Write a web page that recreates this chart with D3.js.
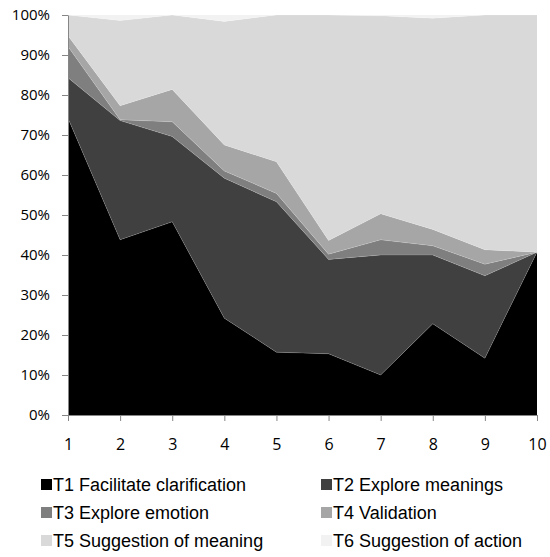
<!DOCTYPE html>
<html>
<head>
<meta charset="utf-8">
<script src="https://cdn.jsdelivr.net/npm/d3@7"></script>
<style>
  html, body { margin: 0; padding: 0; background: #ffffff; }
  svg { display: block; }
</style>
</head>
<body>
<svg id="chart" width="550" height="557"></svg>
<script>
// ---- data ----
const sessions = [1, 2, 3, 4, 5, 6, 7, 8, 9, 10];
const seriesNames = [
  "T1 Facilitate clarification",
  "T2 Explore meanings",
  "T3 Explore emotion",
  "T4 Validation",
  "T5 Suggestion of meaning",
  "T6 Suggestion of action"
];
const t1 = [74.2, 43.8, 48.3, 24.2, 15.7, 15.3, 10.0, 22.8, 14.2, 40.7];
const t2 = [10.1, 29.8, 21.3, 35.0, 37.6, 23.6, 30.0, 17.2, 20.6, 0.0];
const t3 = [7.8, 0.2, 3.7, 1.8, 2.1, 1.3, 3.8, 2.3, 2.9, 0.0];
const t4 = [2.7, 3.5, 8.1, 6.5, 7.9, 3.4, 6.5, 4.1, 3.6, 0.0];
const t5 = [5.2, 21.3, 18.6, 30.9, 36.7, 56.4, 49.5, 52.8, 58.7, 59.3];
const t6 = [0.0, 1.4, 0.0, 1.6, 0.0, 0.0, 0.2, 0.8, 0.0, 0.0];
const yTicks = [0, 10, 20, 30, 40, 50, 60, 70, 80, 90, 100];
const colors = ["#000000", "#404040", "#7f7f7f", "#a6a6a6", "#d9d9d9", "#f2f2f2"];

// ---- build table ----
const seriesValues = [t1, t2, t3, t4, t5, t6];
const keys = seriesNames;
const table = sessions.map((s, i) => {
  const row = { session: s };
  keys.forEach((k, j) => row[k] = seriesValues[j][i]);
  return row;
});

const svg = d3.select("#chart");
const x = d3.scaleLinear().domain([1, 10]).range([68, 537]);
const y = d3.scaleLinear().domain([0, 100]).range([415, 15]);

const stack = d3.stack().keys(keys);
const layers = stack(table);

const area = d3.area()
  .x(d => x(d.data.session))
  .y0(d => y(d[0]))
  .y1(d => y(d[1]));

svg.append("g").selectAll("path")
  .data(layers)
  .join("path")
  .attr("d", area)
  .attr("fill", (d, i) => colors[i]);

// thin separators between layers
const topLine = d3.line()
  .x(d => x(d.data.session))
  .y(d => y(d[1]));
svg.append("g").selectAll("path")
  .data(layers.slice(0, 5))
  .join("path")
  .attr("d", topLine)
  .attr("fill", "none")
  .attr("stroke", "rgba(255,255,255,0.25)")
  .attr("stroke-width", 0.6);

// ---- axes ----
const axisColor = "#868686";
const yAxis = d3.axisLeft(y)
  .tickValues(yTicks)
  .tickFormat(d => d + "%")
  .tickSize(6)
  .tickSizeOuter(0)
  .tickPadding(12);
const gy = svg.append("g").attr("transform", "translate(68,0)").call(yAxis);
gy.select(".domain").attr("stroke", axisColor);
gy.selectAll(".tick line").attr("stroke", axisColor);
gy.selectAll("text")
  .attr("font-family", "'Open Sans', sans-serif")
  .attr("font-size", 15)
  .attr("fill", "#000");

const xAxis = d3.axisBottom(x)
  .tickValues(sessions)
  .tickFormat(d3.format("d"))
  .tickSize(6)
  .tickSizeOuter(0)
  .tickPadding(18);
const gx = svg.append("g").attr("transform", "translate(0,415)").call(xAxis);
gx.select(".domain").attr("stroke", axisColor);
gx.selectAll(".tick line").attr("stroke", axisColor);
gx.selectAll("text")
  .attr("font-family", "'Open Sans', sans-serif")
  .attr("font-size", 16)
  .attr("fill", "#000");

// ---- legend ----
const legendCols = [41, 321];
const legendRows = [479, 507, 535];
const lg = svg.append("g");
keys.forEach((k, i) => {
  const col = i % 2, row = Math.floor(i / 2);
  const g = lg.append("g")
    .attr("transform", `translate(${legendCols[col]},${legendRows[row]})`);
  g.append("rect")
    .attr("width", 11).attr("height", 11)
    .attr("fill", colors[i]);
  g.append("text")
    .attr("x", 12)
    .attr("y", 11.5)
    .attr("font-family", "'Liberation Sans', Arial, sans-serif")
    .attr("font-size", 18)
    .attr("fill", "#000")
    .text(k);
});
</script>
</body>
</html>
